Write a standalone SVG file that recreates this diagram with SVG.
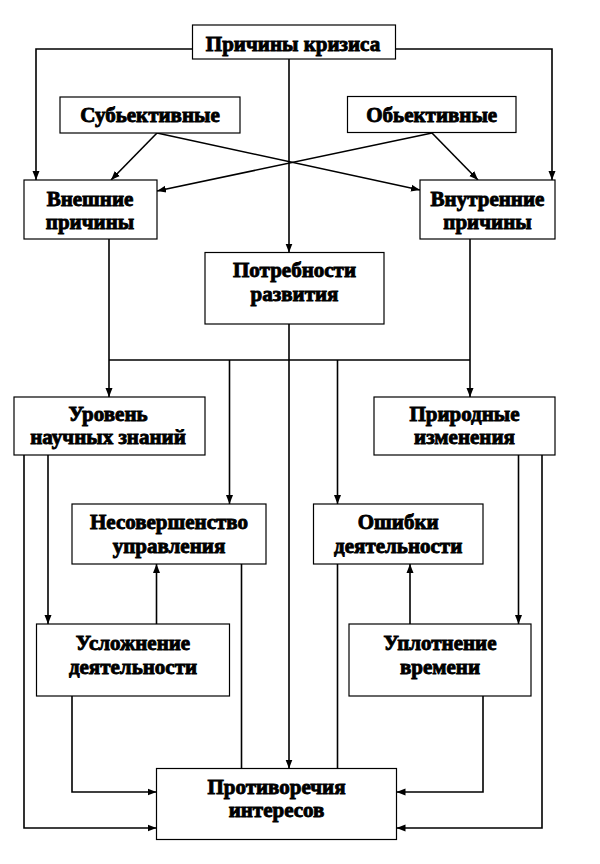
<svg xmlns="http://www.w3.org/2000/svg" width="600" height="864" viewBox="0 0 600 864">
<style>
.box{fill:#fff;stroke:#000;stroke-width:1.2}
.t{font-family:'Liberation Serif','Times New Roman','DejaVu Serif',serif;font-weight:700;font-size:21px;fill:#000;stroke:#000;stroke-width:0.9;text-anchor:middle}
.c{fill:none;stroke:#000;stroke-width:1.6}
</style>
<defs>
<marker id="ah" markerUnits="userSpaceOnUse" markerWidth="10" markerHeight="10" viewBox="0 0 10 10" refX="9" refY="5" orient="auto">
<path d="M0,1.5 L9,5 L0,8.5 Z" fill="#000"/>
</marker>
</defs>
<rect width="600" height="864" fill="#fff"/>
<g id="connectors">
<path class="c" d="M192.5,49 H36 V180" marker-end="url(#ah)"/>
<path class="c" d="M395.5,49 H552 V180" marker-end="url(#ah)"/>
<path class="c" d="M289,59 V252.5" marker-end="url(#ah)"/>
<path class="c" d="M157,133 L111,180" marker-end="url(#ah)"/>
<path class="c" d="M157,133 L420,190" marker-end="url(#ah)"/>
<path class="c" d="M432,133 L478,180" marker-end="url(#ah)"/>
<path class="c" d="M432,133 L157,191" marker-end="url(#ah)"/>
<path class="c" d="M109,239 V397" marker-end="url(#ah)"/>
<path class="c" d="M470,239 V397" marker-end="url(#ah)"/>
<path class="c" d="M109,360 H470"/>
<path class="c" d="M229.5,360 V504" marker-end="url(#ah)"/>
<path class="c" d="M337.5,360 V504" marker-end="url(#ah)"/>
<path class="c" d="M289,324 V768.5" marker-end="url(#ah)"/>
<path class="c" d="M48,455 V624" marker-end="url(#ah)"/>
<path class="c" d="M24,455 V828 H156.5" marker-end="url(#ah)"/>
<path class="c" d="M518.5,455 V624" marker-end="url(#ah)"/>
<path class="c" d="M542,455 V828 H396.5" marker-end="url(#ah)"/>
<path class="c" d="M156.5,624 V564" marker-end="url(#ah)"/>
<path class="c" d="M410,624 V564" marker-end="url(#ah)"/>
<path class="c" d="M241.5,564 V768.5"/>
<path class="c" d="M337.5,564 V768.5"/>
<path class="c" d="M72,696 V792 H156.5" marker-end="url(#ah)"/>
<path class="c" d="M483,696 V792 H396.5" marker-end="url(#ah)"/>
</g>
<g id="n-prichiny">
<rect class="box" x="192.5" y="25" width="203" height="34"/>
<text class="t" x="293" y="50.5">Причины кризиса</text>
</g>
<g id="n-subj">
<rect class="box" x="60" y="97" width="180" height="36"/>
<text class="t" x="150" y="122">Субьективные</text>
</g>
<g id="n-obj">
<rect class="box" x="347.5" y="96.5" width="168.5" height="36"/>
<text class="t" x="431.7" y="122">Обьективные</text>
</g>
<g id="n-vneshnie">
<rect class="box" x="24" y="180" width="133" height="59"/>
<text class="t" x="90" y="206">Внешние</text>
<text class="t" x="90" y="229">причины</text>
</g>
<g id="n-vnutrennie">
<rect class="box" x="420" y="180" width="135" height="59"/>
<text class="t" x="487.5" y="206">Внутренние</text>
<text class="t" x="487.5" y="229">причины</text>
</g>
<g id="n-potrebnosti">
<rect class="box" x="205" y="252.5" width="179" height="71.5"/>
<text class="t" x="294.5" y="277">Потребности</text>
<text class="t" x="294.5" y="301">развития</text>
</g>
<g id="n-uroven">
<rect class="box" x="14" y="397" width="191" height="58"/>
<text class="t" x="108" y="420.5">Уровень</text>
<text class="t" x="108" y="444">научных знаний</text>
</g>
<g id="n-prirodnye">
<rect class="box" x="374" y="397" width="181" height="58"/>
<text class="t" x="464.5" y="420.5">Природные</text>
<text class="t" x="464.5" y="444">изменения</text>
</g>
<g id="n-nesovershenstvo">
<rect class="box" x="72" y="504" width="194" height="60"/>
<text class="t" x="169" y="529">Несовершенство</text>
<text class="t" x="169" y="553">управления</text>
</g>
<g id="n-oshibki">
<rect class="box" x="313.5" y="504" width="169.5" height="60"/>
<text class="t" x="398.2" y="529">Ошибки</text>
<text class="t" x="398.2" y="553">деятельности</text>
</g>
<g id="n-uslozhnenie">
<rect class="box" x="36.5" y="624" width="193" height="72"/>
<text class="t" x="133" y="649.5">Усложнение</text>
<text class="t" x="133" y="673.5">деятельности</text>
</g>
<g id="n-uplotnenie">
<rect class="box" x="349" y="624" width="182" height="72"/>
<text class="t" x="440" y="649.5">Уплотнение</text>
<text class="t" x="440" y="673.5">времени</text>
</g>
<g id="n-protivorechiya">
<rect class="box" x="156.5" y="768.5" width="240" height="71"/>
<text class="t" x="276.5" y="793.5">Противоречия</text>
<text class="t" x="276.5" y="817">интересов</text>
</g>
</svg>
